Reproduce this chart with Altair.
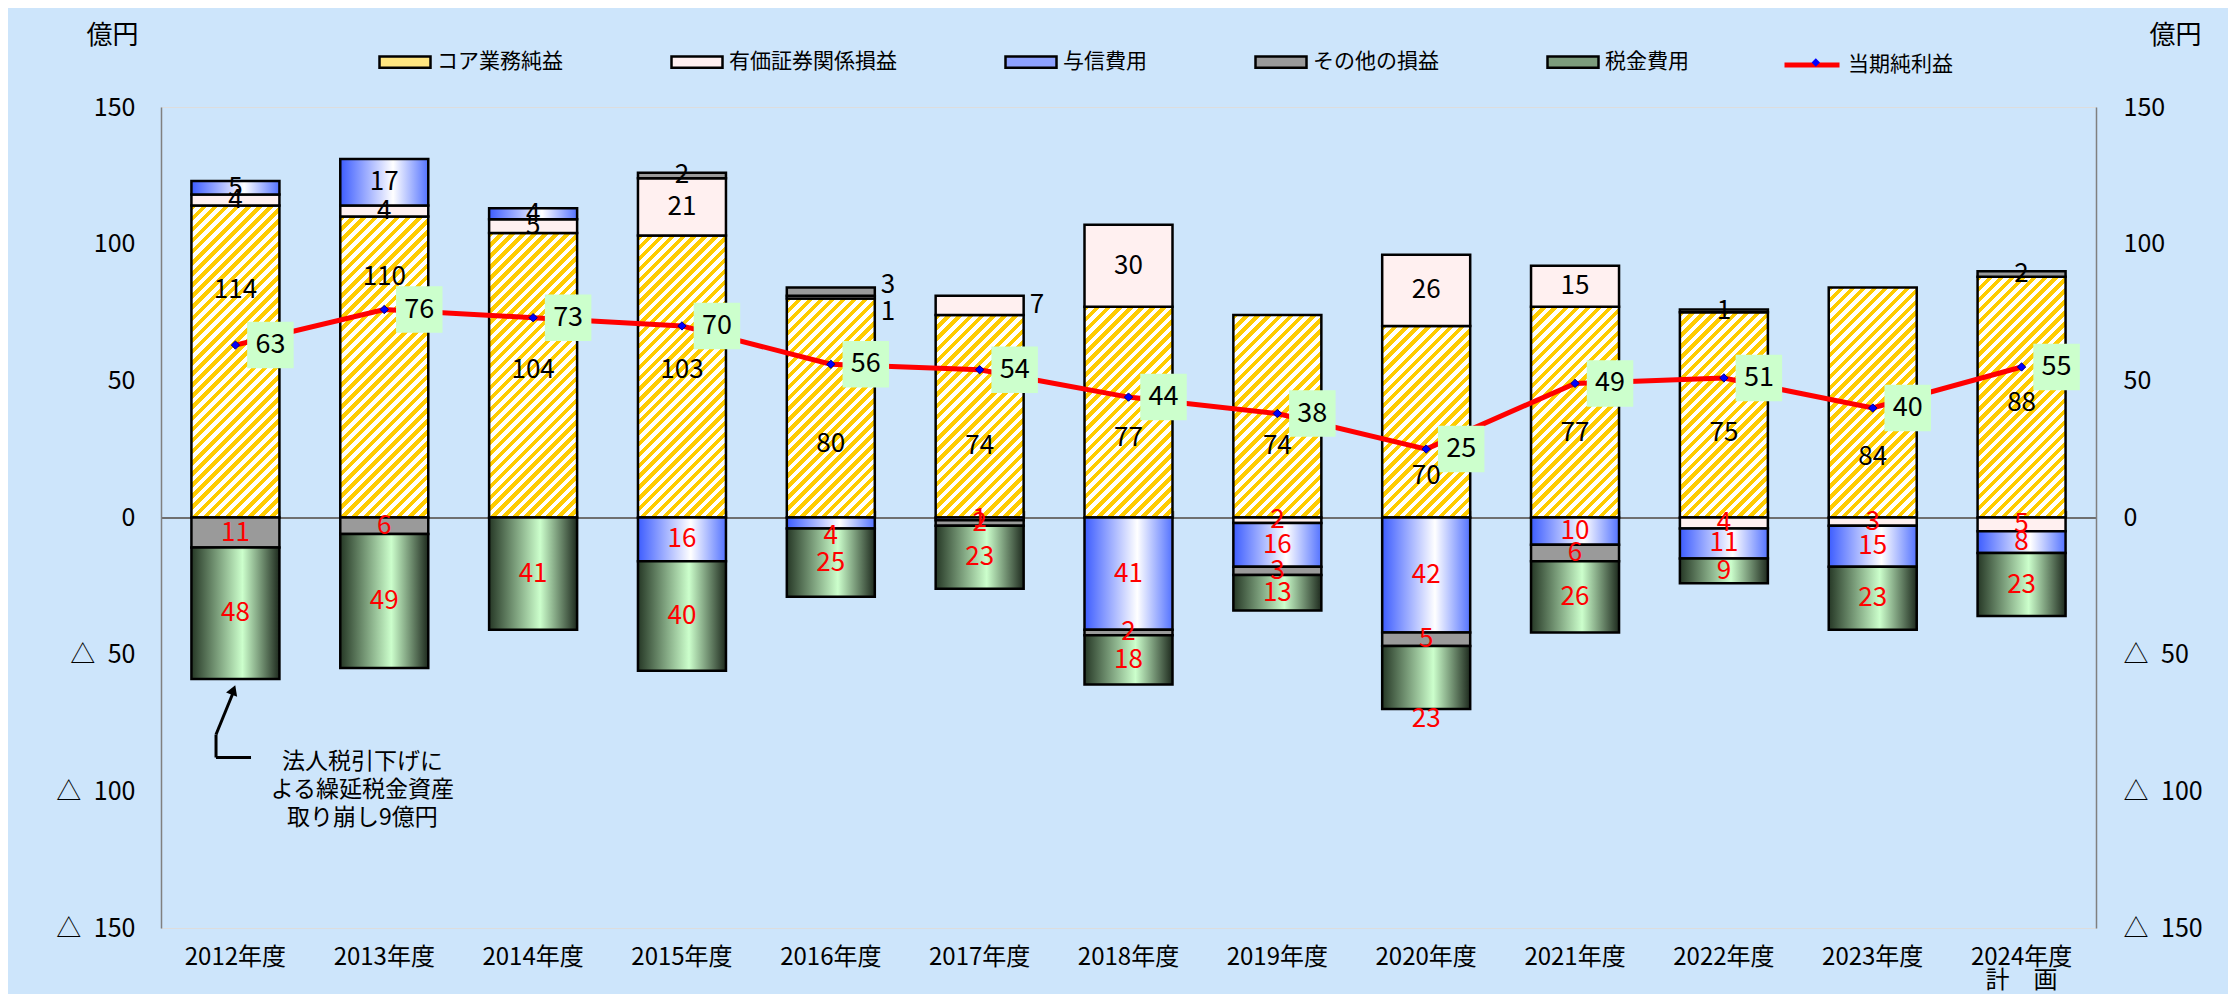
import altair as alt
import pandas as pd

# ---------------- data ----------------
years = ["2012年度", "2013年度", "2014年度", "2015年度", "2016年度", "2017年度", "2018年度",
         "2019年度", "2020年度", "2021年度", "2022年度", "2023年度", "2024年度"]
series_names = ["コア業務純益", "有価証券関係損益", "与信費用", "その他の損益", "税金費用"]
core = [114, 110, 104, 103, 80, 74, 77, 74, 70, 77, 75, 84, 88]
securities = [4, 4, 5, 21, 1, 7, 30, -2, 26, 15, -4, -3, -5]
credit = [5, 17, 4, -16, -4, -1, -41, -16, -42, -10, -11, -15, -8]
other = [-11, -6, 0, 2, 3, -2, -2, -3, -5, -6, 1, 0, 2]
tax = [-48, -49, -41, -40, -25, -23, -18, -13, -23, -26, -9, -23, -23]
net_income = [63, 76, 73, 70, 56, 54, 44, 38, 25, 49, 51, 40, 55]
net_name = "当期純利益"
plan_year = "2024年度"
plan_note = "計　画　"
unit = "億円"
note_lines = ["法人税引下げに", "よる繰延税金資産", "取り崩し9億円"]
# where the core-profit labels sit in the original (value units)
core_label_at = [83, 88, 54, 54, 27, 26, 29, 26, 15, 31, 31, 22, 42]
# labels the original moved: (year, series) -> (label value or None, placed right of bar)
label_moves = {
    ("2016年度", "有価証券関係損益"): (75, True),
    ("2016年度", "その他の損益"): (85, True),
    ("2017年度", "有価証券関係損益"): (None, True),
    ("2016年度", "与信費用"): (-6.6, False),
    ("2020年度", "税金費用"): (-73.5, False),
}

# ---------------- layout / style ----------------
FONT = "Noto Sans CJK JP"
W, H = 1935, 821
Y_MIN, Y_MAX = -150, 150
PPU = H / (Y_MAX - Y_MIN)
STEP = W / len(years)
BAR_W = 88
PAD_IN = 1 - BAR_W / STEP
solid = ["#ffe680", "#fff0f0", "#8ea2ff", "#9a9a9a", "#7c9c7c"]

grad_credit = {"gradient": "linear", "x1": 0, "y1": 0, "x2": 1, "y2": 0,
               "stops": [{"offset": 0, "color": "#3d5dff"},
                         {"offset": 0.6, "color": "#ffffff"},
                         {"offset": 1, "color": "#5473ff"}]}
grad_tax = {"gradient": "linear", "x1": 0, "y1": 0, "x2": 1, "y2": 0,
            "stops": [{"offset": 0, "color": "#263826"},
                      {"offset": 0.58, "color": "#ccffcc"},
                      {"offset": 1, "color": "#1e2a1e"}]}


def stripes(h, w=BAR_W, period=11.0):
    s = (w + h) / (w * w + h * h)
    n = max(1, round((w + h) / period))
    stops = []
    for k in range(n):
        a, b, c = k / n, (k + 0.5) / n, (k + 1) / n
        stops += [{"offset": a, "color": "#ffcc00"}, {"offset": b, "color": "#ffcc00"},
                  {"offset": b, "color": "#ffffff"}, {"offset": c, "color": "#ffffff"}]
    return {"gradient": "linear", "x1": 0, "y1": 0, "x2": w * s, "y2": h * s, "stops": stops}


# ---------------- tables ----------------
values = [core, securities, credit, other, tax]
rows, labels = [], []
bottoms = []
for i, yr in enumerate(years):
    pos, neg = 0.0, 0.0
    for k, name in enumerate(series_names):
        v = values[k][i]
        if v == 0:
            continue
        if v > 0:
            lo, hi = pos, pos + v
            pos = hi
        else:
            hi, lo = neg, neg + v
            neg = lo
        rows.append(dict(year=yr, series=name, order=k, value=v))
        ly = (lo + hi) / 2
        outside = False
        if k == 0:
            ly = core_label_at[i]
        if (yr, name) in label_moves:
            my, outside = label_moves[(yr, name)]
            if my is not None:
                ly = my
        labels.append(dict(year=yr, y=ly, text=str(abs(v)),
                           color="black" if v > 0 else "#ff0000", outside=outside))
    bottoms.append(neg)

df = pd.DataFrame(rows)
lab = pd.DataFrame(labels)
marker_key = net_name + "\u2002"   # separate key so the marker legend is not merged into the line legend
net_df = pd.DataFrame({"year": years, "net": net_income, "kind": net_name, "marker": marker_key})

conds = [{"test": f"datum.series === '{series_names[2]}'", "value": grad_credit},
         {"test": f"datum.series === '{series_names[4]}'", "value": grad_tax}]
for i, yr in enumerate(years):
    conds.append({"test": f"datum.series === '{series_names[0]}' && datum.year === '{yr}'",
                  "value": stripes(core[i] * PPU)})

xscale = alt.Scale(domain=years, paddingInner=PAD_IN, paddingOuter=PAD_IN / 2)
yscale = alt.Scale(domain=[Y_MIN, Y_MAX], nice=False, zero=False)
tick_vals = list(range(Y_MIN, Y_MAX + 1, 50))
ylab = "datum.value < 0 ? '△\u2002' + (-datum.value) : '' + datum.value"

left_axis = alt.Axis(orient="left", values=tick_vals, labelExpr=ylab, grid=False, ticks=False,
                     domainColor="#808080", domainWidth=1.5, labelFontSize=25, labelPadding=26,
                     labelColor="black", labelFlush=False, labelOverlap=False,
                     title=unit, titleAngle=0, titleX=-49, titleY=-72, titleAlign="center",
                     titleBaseline="middle", titleFontSize=26, titleFontWeight="normal",
                     titleColor="black")
right_axis = alt.Axis(orient="right", values=tick_vals, labelExpr=ylab, grid=False, ticks=False,
                      domainColor="#808080", domainWidth=1.5, labelFontSize=25, labelPadding=27,
                      labelColor="black", labelFlush=False, labelOverlap=False,
                      title=unit, titleAngle=0, titleX=79, titleY=-72, titleAlign="center",
                      titleBaseline="middle", titleFontSize=26, titleFontWeight="normal",
                      titleColor="black")
bottom_axis = alt.Axis(orient="bottom", title=None, domain=False, ticks=False, labelAngle=0,
                       labelFontSize=24, labelPadding=17, labelColor="black", labelLineHeight=23,
                       labelExpr=f"datum.label == '{plan_year}' ? ['{plan_year}', '{plan_note}'] : datum.label")
zero_axis = alt.Axis(orient="top", offset=-(H / 2), labels=False, title=None,
                     domainColor="#6f6f6f", domainWidth=2, ticks=True, tickBand="extent",
                     tickSize=7, tickColor="#6f6f6f", tickWidth=1.5)

bars = alt.Chart(df).mark_bar(stroke="black", strokeWidth=2.5).encode(
    x=alt.X("year:N", sort=years, scale=xscale, axis=bottom_axis),
    y=alt.Y("value:Q", stack="zero", scale=yscale, axis=left_axis),
    order=alt.Order("order:Q", sort="ascending"),
    fill=alt.Fill("series:N", sort=series_names,
                  scale=alt.Scale(domain=series_names, range=solid),
                  legend=alt.Legend(orient="none", legendX=217, legendY=-72, direction="horizontal",
                                    columns=5, columnPadding=103, labelOffset=5, title=None,
                                    symbolType="M-1,-0.22H1V0.22H-1Z", symbolSize=2601,
                                    symbolStrokeColor="black", symbolStrokeWidth=2.5,
                                    labelFontSize=21, labelColor="black", labelLimit=0, padding=0),
                  condition=conds),
)

line = alt.Chart(net_df).mark_line(strokeWidth=5).encode(
    x=alt.X("year:N", sort=years, axis=zero_axis),
    y=alt.Y("net:Q", scale=yscale, axis=right_axis),
    stroke=alt.Stroke("kind:N", scale=alt.Scale(domain=[net_name], range=["#ff0000"]),
                      legend=alt.Legend(orient="none", legendX=1621, legendY=-72, title=None,
                                        symbolType="stroke",
                                        symbolSize=3025, symbolStrokeWidth=5, labelOffset=6,
                                        labelFontSize=21, labelColor="black", labelLimit=0,
                                        padding=0)),
)

base_net = alt.Chart(net_df).encode(
    x=alt.X("year:N", sort=years, axis=None),
    y=alt.Y("net:Q", scale=yscale, axis=None),
)
points = base_net.mark_point(filled=True, fill="#0000ff", stroke="#000080",
                             strokeWidth=1, size=70, opacity=1).encode(
    shape=alt.Shape("marker:N", scale=alt.Scale(domain=[marker_key], range=["diamond"]),
                    legend=alt.Legend(orient="none", legendX=1644.3, legendY=-55, title=None,
                                      symbolSize=70, symbolFillColor="#0000ff",
                                      symbolStrokeColor="#000080", symbolStrokeWidth=1,
                                      labelFontSize=21, labelExpr="''", labelLimit=0,
                                      padding=0)),
)
boxes = base_net.mark_square(size=46 * 47, color="#ccffcc", opacity=1, xOffset=35)
box_text = base_net.mark_text(dx=35, fontSize=27, color="black", baseline="middle",
                              align="center").encode(text="net:Q")

lab_base = alt.Chart(lab).encode(
    x=alt.X("year:N", sort=years, axis=None),
    y=alt.Y("y:Q", scale=yscale, axis=None),
    text="text:N",
    color=alt.Color("color:N", scale=None),
)
labels_in = lab_base.transform_filter("!datum.outside").mark_text(
    fontSize=26, baseline="middle", align="center")
labels_out = lab_base.transform_filter("datum.outside").mark_text(
    fontSize=26, baseline="middle", align="left", dx=50)

# annotation for 2012 tax, anchored on the bottom of the 2012 bar
tip = bottoms[0] - 1.7
note_df = pd.DataFrame({"year": [years[0]], "t": [note_lines], "ty": [tip - 28.8],
                        "h": [tip - 27.0], "v": [tip - 18.6], "d": [tip - 2.5], "a": [tip - 2.3]})
nbase = alt.Chart(note_df).encode(x=alt.X("year:N", sort=years, axis=None))
note = nbase.mark_text(fontSize=23, lineHeight=28, align="center", baseline="middle",
                       dx=127, color="black").encode(
    y=alt.Y("ty:Q", scale=yscale, axis=None), text="t")
arrow_h = nbase.mark_rule(color="black", strokeWidth=3, xOffset=-19.4, x2Offset=15.6).encode(
    x2="year:N", y=alt.Y("h:Q", scale=yscale, axis=None))
arrow_v = nbase.mark_rule(color="black", strokeWidth=3, xOffset=-19.4).encode(
    y=alt.Y("h:Q", scale=yscale, axis=None), y2="v:Q")
arrow_d = nbase.mark_rule(color="black", strokeWidth=3, xOffset=-19.4, x2Offset=-1.4).encode(
    x2="year:N", y=alt.Y("v:Q", scale=yscale, axis=None), y2="d:Q")
arrow_head = nbase.mark_point(shape="triangle-up", filled=True, color="black", size=140,
                              angle=21, opacity=1, xOffset=-2).encode(
    y=alt.Y("a:Q", scale=yscale, axis=None))

chart = alt.layer(
    bars, line, points, boxes, box_text, labels_in, labels_out,
    note, arrow_h, arrow_v, arrow_d, arrow_head,
).resolve_axis(x="independent", y="independent").properties(
    width=W, height=H, autosize="none",
    padding={"left": 153, "top": 99, "right": 132, "bottom": 66},
    background="#cde5fb",
).configure_view(stroke=None).configure(font=FONT)

chart.save("out.html", embed_options={"renderer": "svg", "actions": False})
